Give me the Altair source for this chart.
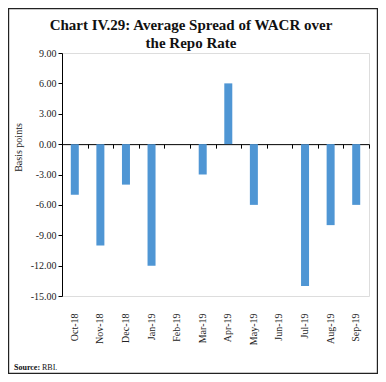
import altair as alt
import pandas as pd

months = ["Oct-18", "Nov-18", "Dec-18", "Jan-19", "Feb-19", "Mar-19",
          "Apr-19", "May-19", "Jun-19", "Jul-19", "Aug-19", "Sep-19"]
spread = [-5, -10, -4, -12, 0, -3, 6, -6, 0, -14, -8, -6]
y_ticks = [-15, -12, -9, -6, -3, 0, 3, 6, 9]
title_lines = ["Chart IV.29: Average Spread of WACR over", "the Repo Rate"]
source_label = "Source:"
source_text = "RBI."

df = pd.DataFrame({"month": months, "spread": spread})
one = pd.DataFrame({"k": [0]})

W, H = 307, 243
SERIF = "Liberation Serif"
zero_offset = -(15 / 24) * H

xscale = alt.Scale(domain=months, paddingInner=0, paddingOuter=0)
yscale = alt.Scale(domain=[-15, 9], nice=False, zero=False)

bars = alt.Chart(df).mark_bar(color="#4f96d4", size=8).encode(
    x=alt.X("month:N", sort=months, scale=xscale,
            axis=alt.Axis(title=None, orient="bottom", labelAngle=-90,
                          labelAlign="right", labelBaseline="middle",
                          labelPadding=17, ticks=False, domain=False,
                          labelOverlap=False,
                          labelFont=SERIF, labelFontSize=10, labelColor="#222")),
    y=alt.Y("spread:Q", scale=yscale,
            axis=alt.Axis(title="Basis points", values=y_ticks,
                          labelExpr="replace(format(datum.value, '.2f'), '\u2212', '-')",
                          labelOverlap=False,
                          grid=False, domain=True, domainColor="#000",
                          tickColor="#000", tickSize=4, labelPadding=2,
                          labelFont=SERIF, labelFontSize=10, labelColor="#222",
                          titleFont=SERIF, titleFontSize=10, titleFontWeight="normal",
                          titleColor="#222", titleAngle=-90, titleX=-44, titleY=94,
                          titleAlign="center", titleBaseline="middle")),
)

zero_axis = alt.Chart(df).mark_point(opacity=0).encode(
    x=alt.X("month:N", sort=months, scale=xscale,
            axis=alt.Axis(title=None, orient="bottom", labels=False,
                          ticks=True, tickBand="extent", tickSize=4,
                          tickColor="#000", domain=True, domainColor="#000",
                          offset=zero_offset)),
    y=alt.value(0),
)

t1 = alt.Chart(one).mark_text(text=title_lines[0], font=SERIF, fontSize=15,
                              fontWeight="bold", align="center", color="#111").encode(
    x=alt.value(129), y=alt.value(-28))
t2 = alt.Chart(one).mark_text(text=title_lines[1], font=SERIF, fontSize=15,
                              fontWeight="bold", align="center", color="#111").encode(
    x=alt.value(129), y=alt.value(-10))
s1 = alt.Chart(one).mark_text(text=source_label, font=SERIF, fontSize=8,
                              fontWeight="bold", align="left", color="#111").encode(
    x=alt.value(-48), y=alt.value(315))
s2 = alt.Chart(one).mark_text(text=source_text, font=SERIF, fontSize=8,
                              align="left", color="#111").encode(
    x=alt.value(-20), y=alt.value(315))
border = alt.Chart(one).mark_rect(fill=None, stroke="#222", strokeWidth=1.2).encode(
    x=alt.value(-53.4), x2=alt.value(W + 8.4), y=alt.value(-44.4), y2=alt.value(H + 77.4))

chart = alt.layer(bars, zero_axis, t1, t2, s1, s2, border).resolve_axis(
    x="independent").properties(
    width=W, height=H,
    autosize=alt.AutoSizeParams(type="none"),
    padding={"left": 54, "top": 45, "right": 9, "bottom": 78},
).configure_view(stroke=None).configure(background="white")

chart.save("out.html", embed_options={"renderer": "svg", "actions": False})
